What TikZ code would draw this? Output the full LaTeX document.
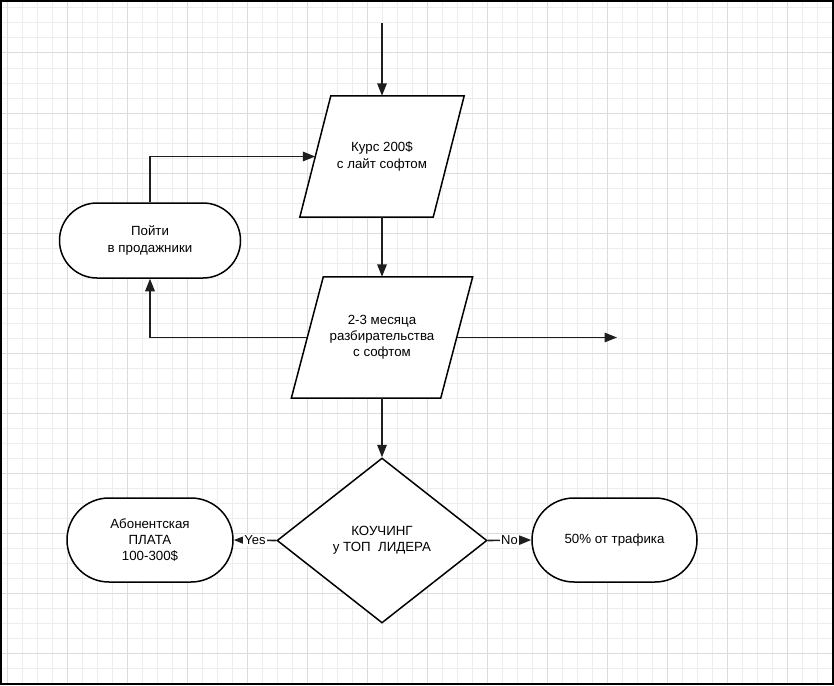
\documentclass[tikz,border=0pt]{standalone}
\usepackage{fontspec}
\setmainfont{Liberation Sans}
\usetikzlibrary{arrows.meta,shapes.geometric}
\definecolor{gridminor}{HTML}{EDEDED}
\definecolor{gridmajor}{HTML}{DCDCDC}
\definecolor{connc}{HTML}{1E1E1E}
\pgfdeclarelayer{bg}
\pgfdeclarelayer{mid}
\pgfsetlayers{bg,mid,main}
\tikzset{
  txt/.style={font=\fontsize{13.3}{16.2}\selectfont, align=center, inner sep=0pt},
  outline/.style={draw=black, line width=1.5pt, fill=white},
  termbox/.style={txt, outline, minimum width=166pt, minimum height=84pt, rounded corners=42pt},
  parabox/.style={txt, minimum height=121pt},
  decbox/.style={txt, outline, shape=diamond, minimum width=210pt, minimum height=165pt},
  connline/.style={draw=connc, line width=1.6pt, -{Triangle[length=12.5pt,width=9.5pt]}},
  lbl/.style={fill=white, inner sep=1pt, font=\fontsize{13}{15}\selectfont}
}
\begin{document}
\begin{tikzpicture}[x=1pt,y=-1pt]
\useasboundingbox (0,0) rectangle (834,685);
\begin{pgfonlayer}{bg}
  \fill[white] (0,0) rectangle (834,685);
  \foreach \x in {7,22,...,832} \draw[gridminor, line width=1pt] (\x,0) -- (\x,685);
  \foreach \y in {8,23,...,684} \draw[gridminor, line width=1pt] (0,\y) -- (834,\y);
  \foreach \x in {7,67,...,832} \draw[gridmajor, line width=1pt] (\x,0) -- (\x,685);
  \foreach \y in {53,113,...,684} \draw[gridmajor, line width=1pt] (0,\y) -- (834,\y);
\end{pgfonlayer}

% nodes
\coordinate (topstart) at (382,23);
\node[parabox, minimum width=133pt] (p1) at (382,156.5) {Курс 200\$\\с лайт софтом};
\node[parabox, minimum width=149pt] (p2) at (382,337.5) {2-3 месяца\\разбирательства\\с софтом};
\node[termbox, minimum width=181pt, minimum height=75pt, rounded corners=37.5pt] (poyti) at (150,240.5) {Пойти\\в продажники};
\node[decbox] (dec) at (382,540.5) {КОУЧИНГ\\у ТОП\ \ ЛИДЕРА};
\node[termbox] (abon) at (150,540) {Абонентская\\ПЛАТА\\100-300\$};
\node[termbox, minimum width=165pt] (traf) at (614.5,540) {50\% от трафика};
\coordinate (rightend) at (617,337.5);

\begin{pgfonlayer}{mid}
  \draw[outline] ([xshift=-15.5pt]p1.south west) -- ([xshift=15.5pt]p1.north west)
     -- ([xshift=15.5pt]p1.north east) -- ([xshift=-15.5pt]p1.south east) -- cycle;
  \draw[outline] ([xshift=-16pt]p2.south west) -- ([xshift=16pt]p2.north west)
     -- ([xshift=16pt]p2.north east) -- ([xshift=-16pt]p2.south east) -- cycle;
\end{pgfonlayer}

% connectors
\draw[connline] (topstart) -- (p1.north);
\draw[connline] (poyti.north) |- (p1.west);
\draw[connline] (p1.south) -- (p2.north);
\draw[connline] (p2.west) -| (poyti.south);
\draw[connline] (p2.east) -- (rightend);
\draw[connline] (p2.south) -- (dec.north);
\draw[connline] (dec.west) -- node[lbl] {Yes} (abon.east);
\draw[connline] (dec.east) -- node[lbl] {No} (traf.west);

% frame
\draw[black, line width=2pt] (1,1) rectangle (833,684);
\end{tikzpicture}
\end{document}
